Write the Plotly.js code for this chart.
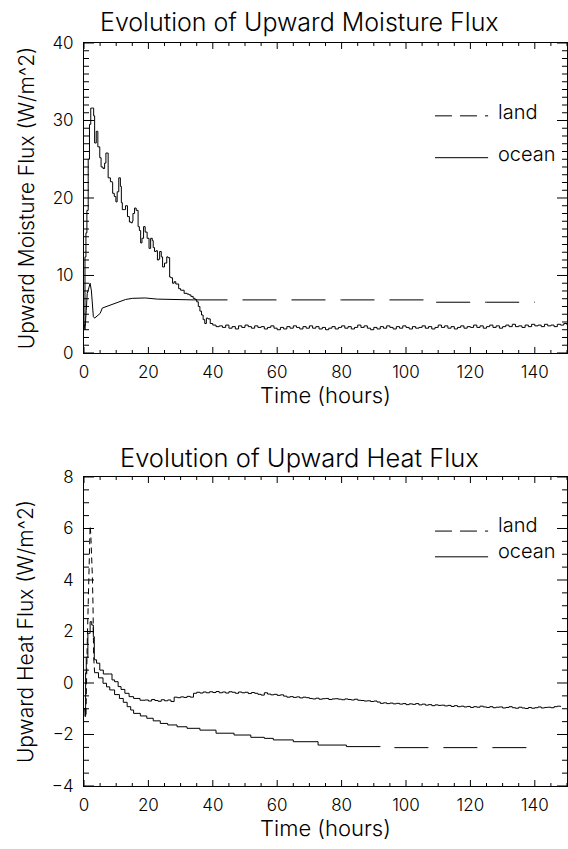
<!DOCTYPE html>
<html>
<head>
<meta charset="utf-8">
<script src="https://cdn.plot.ly/plotly-3.0.1.min.js"></script>
<style>html,body{margin:0;padding:0;background:#fff;}#chart{width:568px;height:849px;}</style>
</head>
<body>
<div id="chart"></div>
<script>
// ---------- Upward Moisture Flux (W/m^2) ----------
const moistOceanT = [0,0.3,0.6,0.9,1.3,1.7,2.1,2.7,3.0,3.3,3.8,4.3,4.9,5.3,5.9,6.4,6.8,7.4,7.5,8.2,8.8,8.9,9.4,9.9,10.3,10.8,11.3,11.6,11.9,12.5,12.9,13.5,14.1,14.6,15.0,15.2,15.7,16.2,16.8,17.2,17.6,18.0,18.5,19.0,19.6,20.2,20.7,21.2,21.5,21.9,22.4,22.8,23.2,23.5,24.0,24.4,25.0,25.7,26.1,26.6,27.0,27.5,28.0,28.5,29.4,30.0,31.1,32.0,32.6,33.2,33.9,34.5,35.0,35.5,36.0,36.5,37.0,37.5,38.0,38.5,39.2,
40,41,42,43,44,45,46,47,48,49,50,51,52,53,54,55,56,57,58,59,60,61,62,63,64,65,66,67,68,69,70,71,72,73,74,75,76,77,78,79,80,81,82,83,84,85,86,87,88,89,90,91,92,93,94,95,96,97,98,99,100,101,102,103,104,105,106,107,108,109,110,111,112,113,114,115,116,117,118,119,120,121,122,123,124,125,126,127,128,129,130,131,132,133,134,135,136,137,138,139,140,141,142,143,144,145,146,147,148,149,150];
const moistOceanV = [3.5,12.4,15.5,18.4,25.0,29.5,31.6,31.6,30.6,27.1,28.6,26.6,25.2,24.0,23.8,24.5,25.8,25.8,22.6,22.1,22.0,20.6,20.2,19.5,20.8,22.6,21.5,19.4,18.5,18.5,19.0,17.6,16.9,16.8,17.0,18.0,18.7,18.4,16.3,15.8,14.2,14.8,16.3,15.6,14.8,13.5,14.8,14.5,13.6,13.1,13.2,12.0,12.1,13.1,12.4,11.1,11.6,12.4,12.3,9.8,9.7,9.0,9.2,8.9,8.3,8.1,7.7,7.6,7.5,7.3,7.05,6.9,6.6,6.0,5.4,4.9,4.3,3.8,4.5,4.4,3.8,
3.6,3.4,3.5,3.3,3.6,3.2,3.4,3.1,3.5,3.3,3.6,3.4,3.2,3.5,3.3,3.4,3.1,3.3,3.5,3.2,3.0,3.3,3.1,3.4,3.2,3.5,3.3,3.1,3.4,3.2,3.5,3.2,3.4,3.1,3.3,3.0,3.2,3.4,3.1,3.3,3.5,3.2,3.4,3.1,3.3,3.6,3.3,3.5,3.2,3.0,3.3,3.1,3.4,3.2,3.5,3.3,3.1,3.4,3.2,3.5,3.3,3.1,3.4,3.2,3.3,3.5,3.2,3.4,3.1,3.3,3.6,3.3,3.5,3.2,3.4,3.1,3.3,3.5,3.2,3.4,3.3,3.6,3.3,3.5,3.2,3.4,3.6,3.3,3.5,3.2,3.4,3.6,3.4,3.7,3.4,3.5,3.3,3.6,3.4,3.7,3.5,3.6,3.4,3.7,3.5,3.6,3.4,3.7,3.6,3.8,3.6];
const moistLandT = [0,0.3,0.7,1.0,1.5,1.9,2.3,2.6,2.9,3.3,4.0,5.0,5.7,7.0,8.2,9.9,11.0,12.9,15.0,17.0,19.0,22.8,26.0,30.0,34.0,60.0,80.0,107.0,107.1,125.0,140.0];
const moistLandV = [3.8,3.0,5.5,7.7,8.4,9.0,8.0,6.0,4.7,4.5,4.8,5.1,5.8,6.0,6.2,6.4,6.6,6.9,7.05,7.05,7.1,6.95,6.9,6.9,6.85,6.85,6.85,6.85,6.55,6.55,6.55];
const moistLandSolidEnd = 24;   // index where the land line turns visibly dashed

// ---------- Upward Heat Flux (W/m^2) ----------
const heatOceanT = [0,0.3,0.5,0.7,1.2,1.9,2.4,2.9,3.2,3.9,4.9,6.0,8.0,8.7,9.5,10.6,11.5,12.7,14.0,15.4,17.4,
19,20,21,22,23,24,25,26,27,28,29,30,31,32,33,34,35,36,37,38,39,40,41,42,43,44,45,46,47,48,49,50,51,52,53,54,55,56,57,58,59,60,61,62,63,64,65,66,67,68,69,70,71,72,73,74,75,76,77,78,79,80,81,82,83,84,85,86,87,88,89,90,91,92,93,94,95,96,97,98,99,100,101,102,103,104,105,106,107,108,109,110,111,112,113,114,115,116,117,118,119,120,121,122,123,124,125,126,127,128,129,130,131,132,133,134,135,136,137,138,139,140,141,142,143,144,145,146,147,148,149,150];
const heatOceanV = [-1.0,-1.3,0.4,1.0,1.93,2.38,2.25,1.8,0.9,0.77,0.5,0.35,0.35,0.12,0.05,-0.14,-0.25,-0.4,-0.53,-0.6,-0.67,
-0.66,-0.70,-0.64,-0.68,-0.71,-0.65,-0.69,-0.66,-0.72,-0.55,-0.57,-0.54,-0.56,-0.52,-0.55,-0.40,-0.36,-0.39,-0.35,-0.38,-0.34,-0.37,-0.33,-0.38,-0.35,-0.39,-0.34,-0.36,-0.40,-0.35,-0.38,-0.36,-0.41,-0.37,-0.40,-0.44,-0.47,-0.38,-0.43,-0.46,-0.44,-0.48,-0.46,-0.51,-0.55,-0.53,-0.56,-0.54,-0.58,-0.55,-0.57,-0.60,-0.62,-0.59,-0.63,-0.61,-0.60,-0.64,-0.62,-0.61,-0.63,-0.65,-0.62,-0.64,-0.66,-0.63,-0.67,-0.68,-0.70,-0.69,-0.72,-0.70,-0.74,-0.79,-0.77,-0.80,-0.78,-0.81,-0.79,-0.82,-0.80,-0.84,-0.81,-0.83,-0.80,-0.85,-0.82,-0.86,-0.84,-0.88,-0.85,-0.87,-0.86,-0.89,-0.87,-0.91,-0.88,-0.92,-0.90,-0.93,-0.91,-0.95,-0.92,-0.94,-0.90,-0.93,-0.95,-0.92,-0.96,-0.94,-0.93,-0.97,-0.95,-0.92,-0.96,-0.98,-0.94,-0.97,-0.99,-0.95,-0.98,-0.96,-0.93,-0.97,-0.95,-0.94,-0.96,-0.92,-0.90,-0.93];
const heatLandT = [0.3,0.6,1.0,1.5,1.9,2.1,2.4,2.6,2.8,3.0,3.3,4.5,5.9,7.0,8.0,9.5,11.0,12.2,13.4,14.5,15.4,17.5,19.5,21.5,23.7,26.0,28.9,32.0,36.0,41.0,46.6,51.8,56.0,58.8,65.0,72.7,81.5,93.9,140.0];
const heatLandV = [-1.0,-1.3,1.5,4.5,6.1,5.8,5.05,4.13,3.0,1.0,0.4,0.2,-0.01,-0.15,-0.27,-0.45,-0.6,-0.75,-0.92,-1.05,-1.18,-1.28,-1.37,-1.47,-1.57,-1.63,-1.7,-1.76,-1.83,-1.95,-2.02,-2.11,-2.15,-2.21,-2.28,-2.41,-2.47,-2.51,-2.51];
const heatLandSpikeEnd = 10;    // dashed spike ends here
const heatLandSolidEnd = 36;    // decay drawn solid until here

// ---------- axis tick settings ----------
const xRange = [0, 150];
const xMajorStep = 20, xMinorStep = 5;
const moistRange = [0, 40];
const moistMajorStep = 10, moistMinorStep = 1;
const heatRange = [-4, 8];
const heatMajorStep = 2, heatMinorStep = 0.5;

// ---------- text ----------
const titles = ['Evolution of Upward Moisture Flux', 'Evolution of Upward Heat Flux'];
const yTitles = ['Upward Moisture Flux (W/m^2)', 'Upward Heat Flux (W/m^2)'];
const xTitle = 'Time (hours)';
const seriesNames = ['land', 'ocean'];

const FONT = 'Inter, DejaVu Sans, sans-serif';
const FW = 300;
const BLK = '#000000';
const DASH = '34px,15px';

function seg(t, v, a, b, dash, xa, ya, name, shape) {
  return {x: t.slice(a, b), y: v.slice(a, b), xaxis: xa, yaxis: ya, type: 'scatter', mode: 'lines',
    name: name, showlegend: false,
    line: {color: BLK, width: 1, dash: dash, shape: shape || 'linear'}};
}

const traces = [
  seg(moistOceanT, moistOceanV, 0, moistOceanT.length, 'solid', 'x', 'y', 'ocean', 'hv'),
  seg(moistLandT, moistLandV, 0, moistLandSolidEnd + 1, 'solid', 'x', 'y', 'land', 'linear'),
  seg(moistLandT, moistLandV, moistLandSolidEnd, moistLandT.length, DASH, 'x', 'y', 'land', 'hv'),
  seg(heatOceanT, heatOceanV, 0, heatOceanT.length, 'solid', 'x2', 'y2', 'ocean', 'hv'),
  seg(heatLandT, heatLandV, 0, heatLandSpikeEnd + 1, '6px,4px', 'x2', 'y2', 'land', 'linear'),
  seg(heatLandT, heatLandV, heatLandSpikeEnd, heatLandSolidEnd + 1, 'solid', 'x2', 'y2', 'land', 'hv'),
  seg(heatLandT, heatLandV, heatLandSolidEnd, heatLandT.length, DASH, 'x2', 'y2', 'land', 'hv')
];

function xAx(anchor) {
  return {anchor: anchor, range: xRange, tick0: xRange[0], dtick: xMajorStep, ticks: '',
    showline: true, linecolor: BLK, linewidth: 1, mirror: true,
    showgrid: false, zeroline: false, tickfont: {family: FONT, size: 17, color: BLK, weight: FW},
    ticklabelstandoff: 4,
    title: {text: xTitle, font: {family: FONT, size: 22, color: BLK, weight: FW}, standoff: 4}};
}
function yAx(anchor, domain, range, dtick, title) {
  return {anchor: anchor, domain: domain, range: range, tick0: range[0], dtick: dtick, ticks: '',
    showline: true, linecolor: BLK, linewidth: 1, mirror: true,
    showgrid: false, zeroline: false, tickfont: {family: FONT, size: 17, color: BLK, weight: FW},
    ticklabelstandoff: 6,
    title: {text: title, font: {family: FONT, size: 21, color: BLK, weight: FW}, standoff: 12}};
}

// inside tick marks on all four sides (IDL style), placed through the axes' own scales
const PLOT_W = 483;           // plot width in px (568 - 84 - 1)
const TOP_H = 310, BOT_H = 309; // panel heights in px
function tickShapes(xr, yr, yRangeArr, yMaj, yMin, panelH) {
  const out = [];
  const ln = {color: BLK, width: 1};
  for (let k = 0; xRange[0] + k * xMinorStep <= xRange[1] + 1e-9; k++) {
    const v = xRange[0] + k * xMinorStep;
    const isMaj = Math.abs(v / xMajorStep - Math.round(v / xMajorStep)) < 1e-9;
    const len = (isMaj ? 6 : 3) / panelH;
    out.push({type: 'line', xref: xr, yref: yr + ' domain', x0: v, x1: v, y0: 0, y1: len, line: ln});
    out.push({type: 'line', xref: xr, yref: yr + ' domain', x0: v, x1: v, y0: 1, y1: 1 - len, line: ln});
  }
  for (let k = 0; yRangeArr[0] + k * yMin <= yRangeArr[1] + 1e-9; k++) {
    const v = yRangeArr[0] + k * yMin;
    const q = (v - yRangeArr[0]) / yMaj;
    const isMaj = Math.abs(q - Math.round(q)) < 1e-9;
    const len = (isMaj ? 10 : 5) / PLOT_W;
    out.push({type: 'line', xref: xr + ' domain', yref: yr, x0: 0, x1: len, y0: v, y1: v, line: ln});
    out.push({type: 'line', xref: xr + ' domain', yref: yr, x0: 1, x1: 1 - len, y0: v, y1: v, line: ln});
  }
  return out;
}

function legendParts(xr, yr, yLand, yOcean, dyText) {
  const shapes = [
    {type: 'line', xref: xr, yref: yr, x0: 109, x1: 125.5, y0: yLand, y1: yLand, line: {color: BLK, width: 1, dash: '17px,8px'}},
    {type: 'line', xref: xr, yref: yr, x0: 109, x1: 125.5, y0: yOcean, y1: yOcean, line: {color: BLK, width: 1}}
  ];
  const ann = [
    {xref: xr, yref: yr, x: 127.8, y: yLand + dyText, text: seriesNames[0], showarrow: false, xanchor: 'left', yanchor: 'middle', font: {family: FONT, size: 20, color: BLK, weight: FW}},
    {xref: xr, yref: yr, x: 127.8, y: yOcean + dyText, text: seriesNames[1], showarrow: false, xanchor: 'left', yanchor: 'middle', font: {family: FONT, size: 20, color: BLK, weight: FW}}
  ];
  return {shapes, ann};
}
const lg1 = legendParts('x', 'y', 30.6, 25.2, 0.5);
const lg2 = legendParts('x2', 'y2', 5.9, 4.9, 0.22);

const layout = {
  width: 568, height: 849,
  margin: {l: 84, r: 1, t: 43, b: 63},
  paper_bgcolor: '#ffffff', plot_bgcolor: '#ffffff',
  showlegend: false,
  xaxis: xAx('y'),
  yaxis: yAx('x', [0.5828, 1], moistRange, moistMajorStep, yTitles[0]),
  xaxis2: xAx('y2'),
  yaxis2: yAx('x2', [0, 0.4159], heatRange, heatMajorStep, yTitles[1]),
  shapes: tickShapes('x', 'y', moistRange, moistMajorStep, moistMinorStep, TOP_H)
    .concat(tickShapes('x2', 'y2', heatRange, heatMajorStep, heatMinorStep, BOT_H))
    .concat(lg1.shapes, lg2.shapes),
  annotations: [
    {xref: 'paper', yref: 'paper', x: 0.447, y: 1.028, text: titles[0], showarrow: false, xanchor: 'center', yanchor: 'middle', font: {family: FONT, size: 25, color: BLK, weight: FW}},
    {xref: 'paper', yref: 'paper', x: 0.447, y: 0.4425, text: titles[1], showarrow: false, xanchor: 'center', yanchor: 'middle', font: {family: FONT, size: 25.5, color: BLK, weight: FW}}
  ].concat(lg1.ann, lg2.ann)
};

Plotly.newPlot('chart', traces, layout, {displayModeBar: false, staticPlot: true});
</script>
</body>
</html>
